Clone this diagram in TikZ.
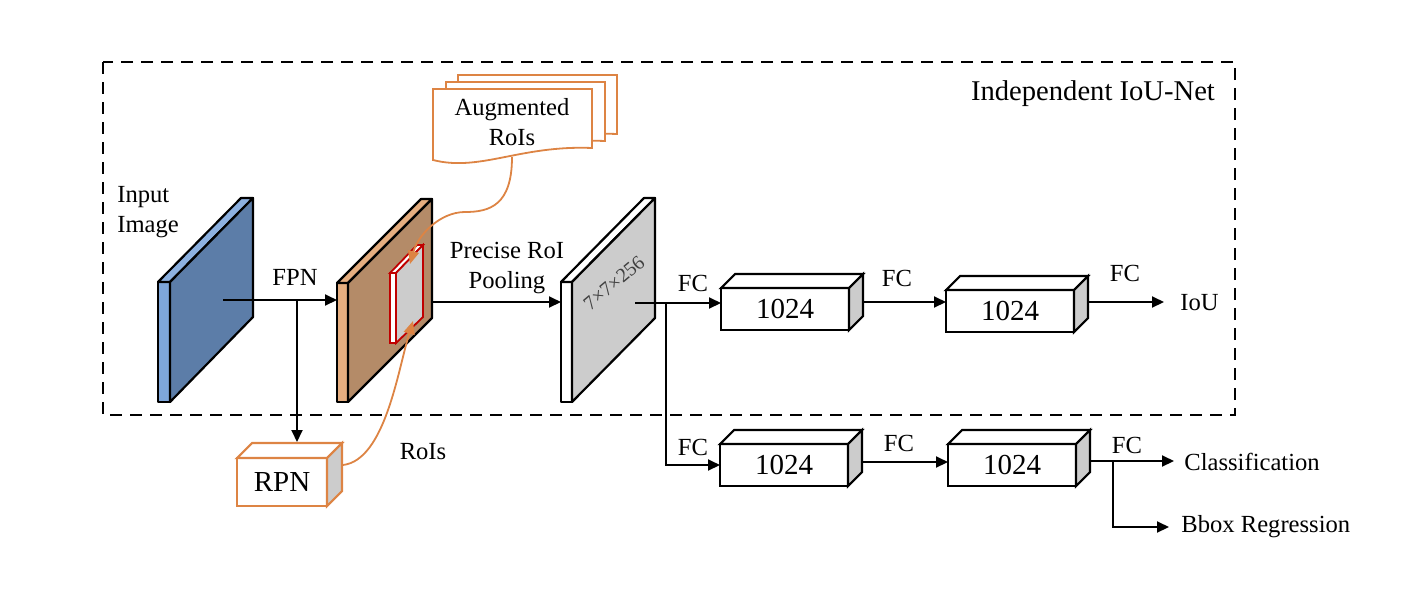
\documentclass[tikz,border=0pt]{standalone}
\usepackage{fontspec}
\setmainfont{Liberation Serif}
\usetikzlibrary{arrows.meta,calc}
\definecolor{orng}{HTML}{DD8444}
\definecolor{sidegray}{HTML}{CCCCCC}
\definecolor{blueFront}{HTML}{7EA6DA}
\definecolor{blueSide}{HTML}{5C7DA8}
\definecolor{blueTop}{HTML}{8DB1E0}
\definecolor{brownFront}{HTML}{E6AE80}
\definecolor{brownSide}{HTML}{B48B68}
\definecolor{roired}{HTML}{C00000}
\newcommand{\cubo}[7]{%
  \node[draw=#6, line width=1.05pt, fill=white, minimum width=#3, minimum height=#4,
        inner sep=0pt, outer sep=0pt, font=\fontsize{14.5}{16}\selectfont] (#1) at (#2) {#7};
  \filldraw[draw=#6, fill=white, line width=1.05pt] (#1.north west) -- ([shift={(#5,-#5)}]#1.north west)
     -- ([shift={(#5,-#5)}]#1.north east) -- (#1.north east) -- cycle;
  \filldraw[draw=#6, fill=sidegray, line width=1.05pt] (#1.north east) -- ([shift={(#5,-#5)}]#1.north east)
     -- ([shift={(#5,-#5)}]#1.south east) -- (#1.south east) -- cycle;
}
\begin{document}
\begin{tikzpicture}[x=0.5pt,y=-0.5pt,
  lbl/.style={font=\fontsize{12.3}{15}\selectfont, inner sep=0pt},
  arr/.style={-{Triangle[length=6pt,width=5.5pt]}, line width=0.95pt},
  oarr/.style={-{Triangle[length=6.5pt,width=5.5pt]}, draw=orng, line width=0.9pt},
  slab/.style={draw=black, line width=1.1pt, line join=round},
  docsh/.style={draw=orng, fill=white, line width=0.9pt}]
\useasboundingbox (0,0) rectangle (1417,590);

% dashed frame
\draw[dash pattern=on 6pt off 4pt, line width=1pt] (103,62) rectangle (1235,415);
\node[font=\fontsize{14.3}{16}\selectfont, inner sep=0pt] (title) at (1093,94) {Independent IoU-Net};

% input image slab
\filldraw[slab, fill=blueFront] (158,282) -- (170,282) -- (170,402) -- (158,402) -- cycle;
\filldraw[slab, fill=blueTop] (158,282) -- (241,198) -- (253,198) -- (170,282) -- cycle;
\filldraw[slab, fill=blueSide] (170,282) -- (253,198) -- (253,317) -- (170,402) -- cycle;
\node[lbl, align=left, anchor=north west] (inp) at (117,186) {Input\\Image};

% feature map slab
\filldraw[slab, fill=brownFront] (337,283) -- (348,283) -- (348,402) -- (337,402) -- cycle;
\filldraw[slab, fill=brownFront] (337,283) -- (421,199) -- (432,199) -- (348,283) -- cycle;
\filldraw[slab, fill=brownSide] (348,283) -- (432,199) -- (432,318) -- (348,402) -- cycle;
% RoI inside
\filldraw[draw=roired, fill=white, line width=0.9pt] (390,273) -- (396,273) -- (396,343) -- (390,343) -- cycle;
\filldraw[draw=roired, fill=white, line width=0.9pt] (390,273) -- (417,245) -- (423,245) -- (396,273) -- cycle;
\filldraw[draw=roired, fill=sidegray, line width=0.9pt] (396,273) -- (423,245) -- (423,317) -- (396,343) -- cycle;
\coordinate (roiT) at (410,264);
\coordinate (roiB) at (413,321);

% pooled slab
\filldraw[slab, fill=white] (561,282) -- (572,282) -- (572,402) -- (561,402) -- cycle;
\filldraw[slab, fill=white] (561,282) -- (644,198) -- (655,198) -- (572,282) -- cycle;
\filldraw[slab, fill=sidegray] (572,282) -- (655,198) -- (655,318) -- (572,402) -- cycle;
\node[font=\fontsize{10}{12}\selectfont, text=black!75, rotate=40, inner sep=0pt] (dim) at (614,283) {7×7×256};

% augmented RoIs documents
\begin{scope}[shift={(458,75)}]
\draw[docsh] (0,0) -- (159,0) -- (159,59) .. controls (87,56) and (47,83) .. (0,71) -- cycle;
\end{scope}
\begin{scope}[shift={(446,82)}]
\draw[docsh] (0,0) -- (159,0) -- (159,59) .. controls (87,56) and (47,83) .. (0,71) -- cycle;
\end{scope}
\begin{scope}[shift={(433,89)}]
\draw[docsh] (0,0) -- (159,0) -- (159,59) .. controls (87,56) and (47,83) .. (0,71) -- cycle;
\end{scope}
\node[lbl, align=center] (aug) at (512,122) {Augmented\\RoIs};
\coordinate (augB) at (512,157);

% RPN
\cubo{rpn}{282,482}{45pt}{24pt}{15}{orng}{RPN}
\node[lbl] (rois) at (423,452) {RoIs};
\coordinate (rpnS) at (343,465);

% FC boxes
\cubo{b1}{785,309}{64pt}{21pt}{14}{black}{1024}
\cubo{b2}{1010,311}{64pt}{21pt}{14}{black}{1024}
\cubo{b3}{784,465}{64pt}{21pt}{14}{black}{1024}
\cubo{b4}{1012,465}{64pt}{21pt}{14}{black}{1024}

% labels
\node[lbl] (fpn) at (295,277) {FPN};
\node[lbl, align=center] (prp) at (507,268) {Precise RoI\\Pooling};
\node[lbl] (fc1) at (693,283) {FC};
\node[lbl] (fc2) at (897,278) {FC};
\node[lbl] (fc3) at (1125,273) {FC};
\node[lbl] (fc4) at (693,447) {FC};
\node[lbl] (fc5) at (899,443) {FC};
\node[lbl] (fc6) at (1127,445) {FC};
\node[lbl, anchor=west] (iou) at (1180,303) {IoU};
\node[lbl, anchor=west] (cls) at (1184,462) {Classification};
\node[lbl, anchor=west] (reg) at (1181,527) {Bbox Regression};

% coordinates for connectors
\coordinate (inA) at (223,300);
\coordinate (brL) at (337,300);
\coordinate (fpnS) at (297,300);
\coordinate (rpnT) at (297,442);
\coordinate (brR) at (432,302);
\coordinate (grL) at (561,302);
\coordinate (grO) at (635,303);
\coordinate (brn) at (666,303);
\coordinate (b1o) at (863,302);
\coordinate (b2o) at (1088,302);
\coordinate (iouA) at (1164,302);
\coordinate (b3o) at (862,462);
\coordinate (b4o) at (1089,461);
\coordinate (clsA) at (1174,461);
\coordinate (brn2) at (1113,461);
\coordinate (regA) at (1169,527);

% connectors
\draw[arr] (inA) -- (brL);
\draw[arr] (fpnS) -- (rpnT);
\draw[arr] (brR) -- (grL);
\draw[arr] (grO) -- (grO -| b1.west);
\draw[arr] (brn) |- (b3.west);
\draw[arr] (b1o) -- (b1o -| b2.west);
\draw[arr] (b2o) -- (iouA);
\draw[arr] (b3o) -- (b3o -| b4.west);
\draw[arr] (b4o) -- (clsA);
\draw[arr] (brn2) |- (regA);

% orange curves
\draw[oarr] (augB) .. controls (512,205) and (490,212) .. (465,212) .. controls (440,212) and (418,235) .. (roiT);
\draw[oarr] (rpnS) .. controls (385,460) and (398,370) .. (roiB);
\end{tikzpicture}
\end{document}
